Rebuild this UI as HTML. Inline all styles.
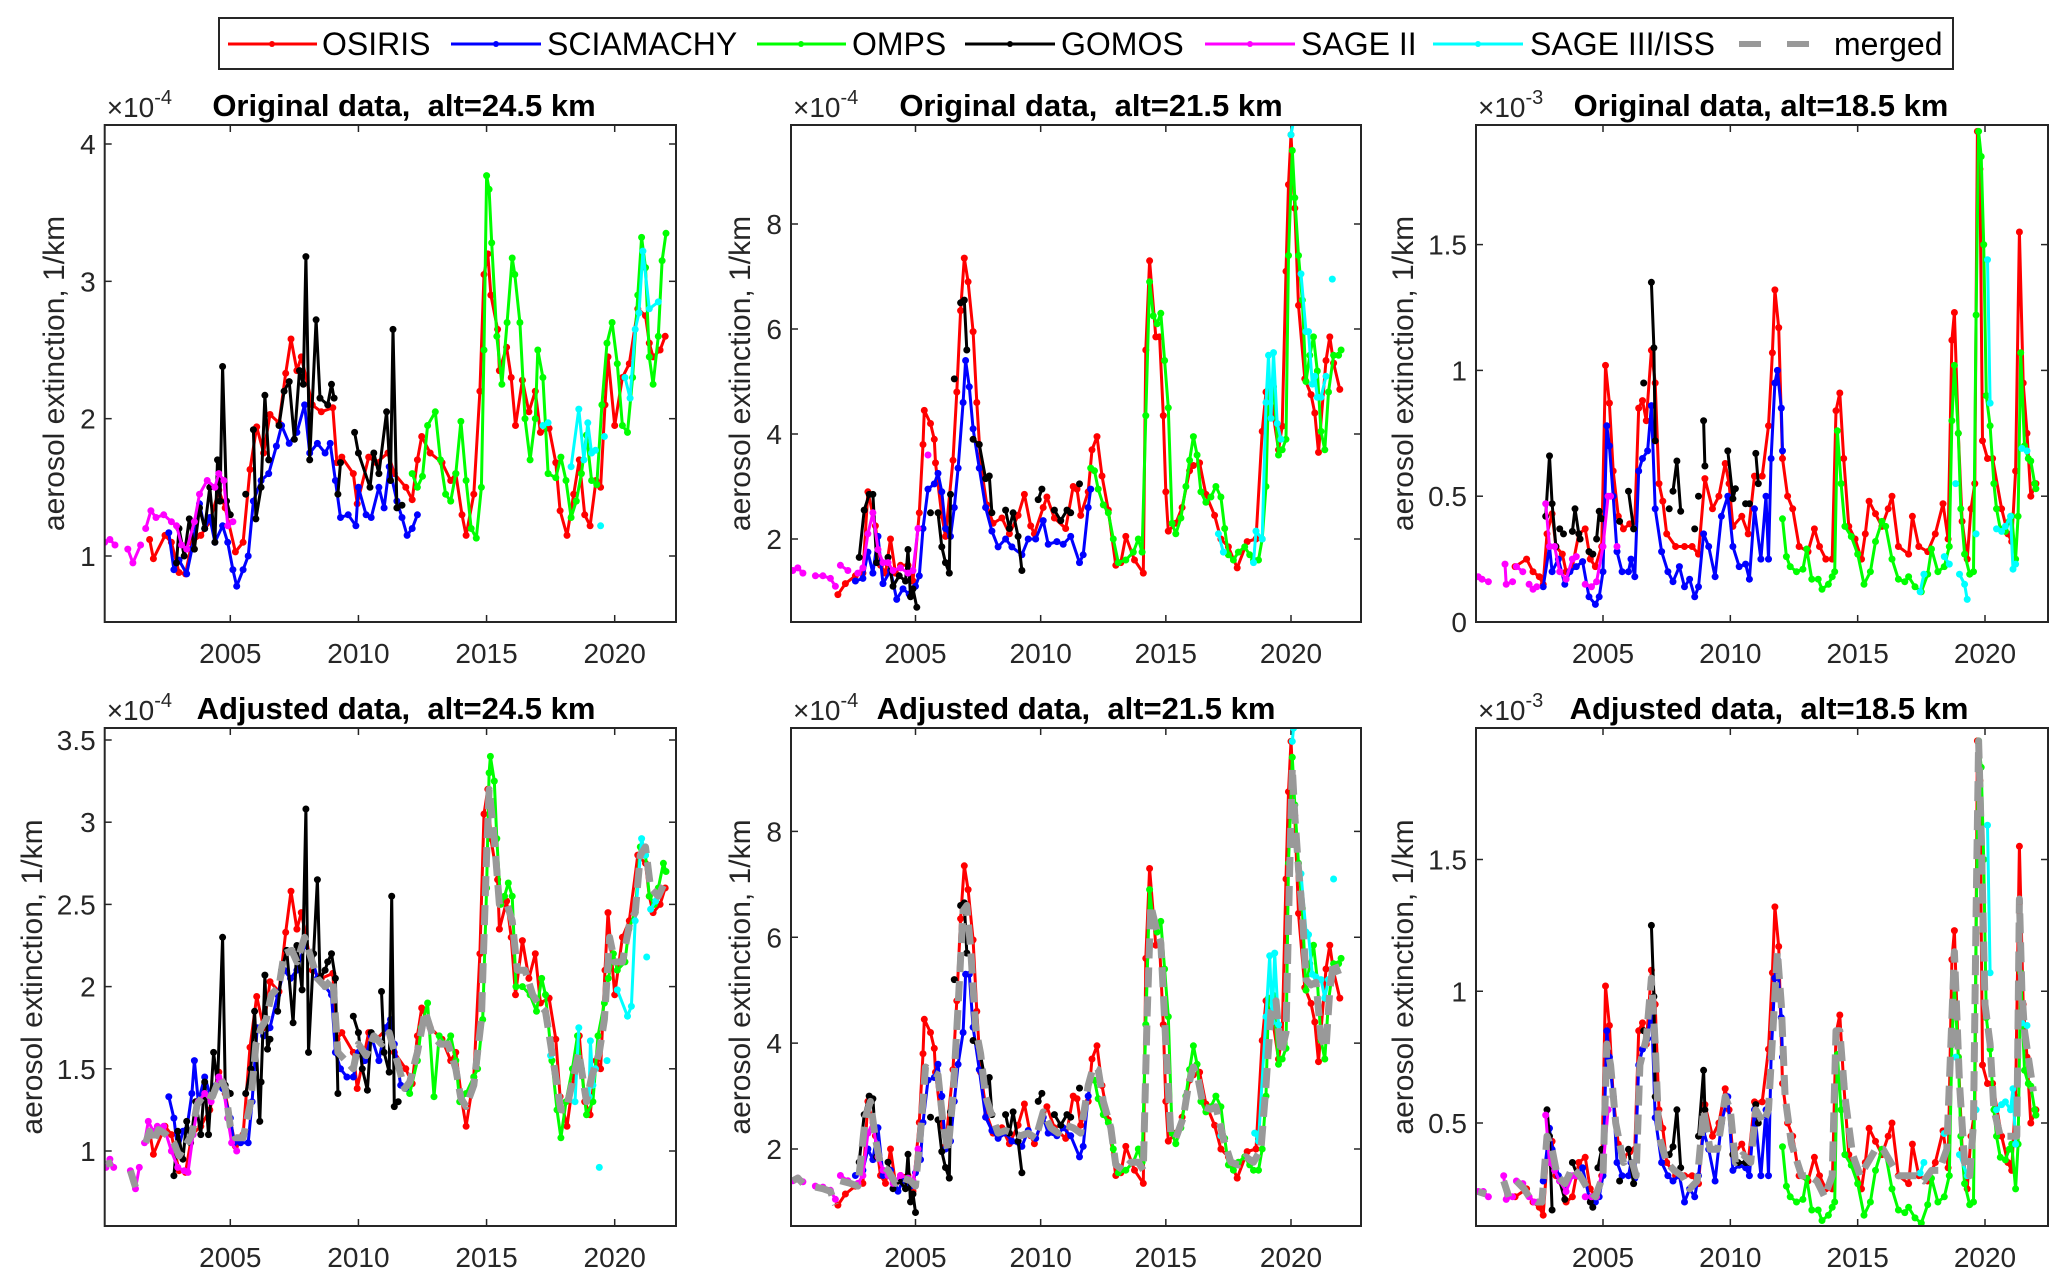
<!DOCTYPE html>
<html><head><meta charset="utf-8">
<style>
html,body{margin:0;padding:0;background:#fff;}
svg{display:block;font-family:"Liberation Sans",Arial,sans-serif;}
text{white-space:pre;}
</style></head>
<body>
<svg id="fig" width="2067" height="1284" viewBox="0 0 2067 1284" xmlns="http://www.w3.org/2000/svg">
<rect x="0" y="0" width="2067" height="1284" fill="#fff"/>
<g id="legend">
  <rect x="219" y="18" width="1734" height="51" fill="#fff" stroke="#262626" stroke-width="2"/>
  <g><line x1="228" y1="44" x2="317" y2="44" stroke="#f00" stroke-width="3"/><circle cx="272" cy="44" r="3" fill="#f00"/><text x="322" y="55" font-size="32" fill="#000">OSIRIS</text></g>
  <g><line x1="451" y1="44" x2="541" y2="44" stroke="#00f" stroke-width="3"/><circle cx="496" cy="44" r="3" fill="#00f"/><text x="547" y="55" font-size="32" fill="#000">SCIAMACHY</text></g>
  <g><line x1="757" y1="44" x2="846" y2="44" stroke="#0f0" stroke-width="3"/><circle cx="801" cy="44" r="3" fill="#0f0"/><text x="852" y="55" font-size="32" fill="#000">OMPS</text></g>
  <g><line x1="965" y1="44" x2="1055" y2="44" stroke="#000" stroke-width="3"/><circle cx="1010" cy="44" r="3" fill="#000"/><text x="1061" y="55" font-size="32" fill="#000">GOMOS</text></g>
  <g><line x1="1205" y1="44" x2="1295" y2="44" stroke="#f0f" stroke-width="3"/><circle cx="1250" cy="44" r="3" fill="#f0f"/><text x="1301" y="55" font-size="32" fill="#000">SAGE II</text></g>
  <g><line x1="1433" y1="44" x2="1523" y2="44" stroke="#0ff" stroke-width="3"/><circle cx="1478" cy="44" r="3" fill="#0ff"/><text x="1530" y="55" font-size="32" fill="#000">SAGE III/ISS</text></g>
  <g><line x1="1739" y1="44" x2="1809" y2="44" stroke="#999" stroke-width="6" stroke-dasharray="22,26"/><text x="1834" y="55" font-size="32" fill="#000">merged</text></g>
</g>
</svg>
<script>
// ===== data (year, value pairs; null breaks line) =====
const A_OSIRIS=[2001.85,1.12,2002.0,0.98,2002.45,1.15,2002.7,1.1,2003.0,0.88,2003.25,0.87,2003.5,1.1,2003.85,1.15,2004.2,1.25,2004.55,1.48,2004.8,1.35,2005.2,1.03,2005.5,1.1,2005.77,1.63,2006.03,1.94,2006.3,1.75,2006.55,2.03,2006.9,1.97,2007.16,2.33,2007.37,2.58,2007.6,2.35,2007.77,2.45,2008.2,2.1,2008.55,2.05,2009.0,2.08,2009.16,1.68,2009.35,1.72,2009.8,1.6,2009.95,1.38,2010.4,1.72,2010.7,1.68,2011.15,1.75,2011.4,1.6,2011.85,1.5,2012.1,1.41,2012.3,1.7,2012.47,1.87,2012.8,1.75,2013.26,1.68,2013.6,1.55,2013.8,1.6,2014.04,1.3,2014.2,1.15,2014.5,1.45,2014.74,2.2,2014.9,3.05,2015.05,3.2,2015.17,2.9,2015.43,2.65,2015.5,2.35,2015.78,2.52,2015.96,2.3,2016.13,1.95,2016.4,2.28,2016.65,2.05,2016.9,2.2,2017.1,1.9,2017.44,1.93,2017.7,1.68,2017.87,1.33,2018.14,1.15,2018.4,1.45,2018.62,1.7,2018.83,1.3,2019.04,1.22,2019.27,1.55,2019.45,1.5,2019.62,2.1,2019.74,2.45,2020.0,1.95,2020.3,2.3,2020.57,2.4,2020.9,2.8,2021.2,2.75,2021.35,2.55,2021.5,2.45,2021.77,2.5,2021.97,2.6];
const A_SCIA=[2002.6,1.17,2002.8,0.9,2003.0,0.97,2003.3,0.87,2003.5,1.05,2003.8,1.38,2004.0,1.2,2004.2,1.28,2004.4,1.1,2004.7,1.22,2004.9,1.1,2005.1,0.9,2005.25,0.78,2005.5,0.9,2005.7,1.0,2005.9,1.4,2006.2,1.55,2006.5,1.6,2006.8,1.8,2007.0,1.95,2007.3,1.82,2007.6,1.9,2007.9,2.1,2008.1,1.75,2008.4,1.82,2008.7,1.75,2008.9,1.82,2009.1,1.55,2009.3,1.28,2009.6,1.3,2009.9,1.22,2010.0,1.5,2010.3,1.3,2010.5,1.28,2010.8,1.5,2011.0,1.35,2011.2,1.65,2011.5,1.4,2011.7,1.28,2011.9,1.15,2012.1,1.2,2012.3,1.3];
const A_OMPS=[2012.1,1.6,2012.3,1.5,2012.5,1.58,2012.7,1.95,2013.0,2.05,2013.2,1.7,2013.4,1.45,2013.6,1.4,2013.8,1.6,2014.0,1.98,2014.2,1.55,2014.4,1.2,2014.6,1.13,2014.8,1.5,2014.9,2.5,2015.0,3.77,2015.1,3.67,2015.2,3.28,2015.4,2.6,2015.6,2.25,2015.8,2.7,2016.0,3.17,2016.1,3.05,2016.3,2.7,2016.5,2.0,2016.7,1.7,2016.9,2.0,2017.0,2.5,2017.2,2.3,2017.4,1.6,2017.7,1.57,2017.9,1.72,2018.1,1.55,2018.3,1.28,2018.5,1.4,2018.7,1.6,2018.9,1.88,2019.1,1.55,2019.3,1.52,2019.5,2.1,2019.7,2.55,2019.9,2.7,2020.1,2.4,2020.3,1.95,2020.5,1.9,2020.7,2.3,2020.9,2.9,2021.05,3.32,2021.2,3.1,2021.35,2.45,2021.5,2.25,2021.7,2.6,2021.85,3.15,2022.0,3.35];
const A_GOMOS=[2002.9,0.95,2003.0,1.2,2003.2,1.0,2003.4,1.27,2003.6,1.05,2003.8,1.35,2004.0,1.2,2004.2,1.5,2004.4,1.1,2004.5,1.7,2004.6,1.4,2004.7,2.38,2004.85,1.4,2005.0,1.3,null,null,2005.6,1.45,null,null,2005.9,1.92,2006.0,1.27,2006.2,1.5,2006.35,2.17,2006.5,1.7,null,null,2006.9,1.95,2007.1,2.2,2007.3,2.27,2007.5,1.85,2007.7,2.35,2007.85,2.25,2007.95,3.18,2008.1,1.7,2008.35,2.72,2008.5,2.15,2008.8,2.1,2008.95,2.25,2009.05,2.15,null,null,2009.2,1.45,2009.3,1.68,null,null,2009.85,1.9,2010.0,1.75,2010.45,1.5,2010.6,1.75,2010.8,1.6,2011.1,2.05,2011.25,1.55,2011.35,2.65,2011.5,1.35,2011.7,1.37];
const A_SAGE2=[2000.1,1.1,2000.3,1.12,2000.5,1.08,null,null,2001.0,1.05,2001.2,0.95,2001.5,1.08,null,null,2001.7,1.2,2001.9,1.33,2002.1,1.28,2002.4,1.3,2002.7,1.25,2002.9,1.22,2003.1,1.08,2003.3,1.05,2003.6,1.25,2003.8,1.45,2004.1,1.55,2004.4,1.5,2004.55,1.6,2004.75,1.55,2004.9,1.22,2005.1,1.25];
const A_SAGE3=[2017.2,1.95,2017.4,1.97,null,null,2018.3,1.65,2018.6,2.07,2018.8,1.7,2018.95,1.97,2019.1,1.75,2019.25,1.77,null,null,2019.45,1.22,null,null,2019.6,1.87,null,null,2020.4,2.3,2020.6,2.15,2020.8,2.65,2020.95,2.77,2021.1,3.22,2021.35,2.8,2021.7,2.85];

const B_OSIRIS=[2001.9,0.94,2002.2,1.15,2002.6,1.3,2002.9,1.35,2003.1,2.9,2003.4,2.25,2003.6,1.5,2003.8,1.35,2004.0,2.0,2004.2,1.35,2004.4,1.5,2004.7,1.5,2004.9,1.2,2005.15,2.5,2005.3,3.8,2005.35,4.45,2005.6,4.2,2005.75,3.9,2005.8,3.45,2006.05,2.45,2006.2,2.05,2006.5,3.5,2006.65,4.8,2006.8,6.35,2006.95,7.35,2007.1,6.9,2007.3,5.95,2007.45,4.6,2007.6,3.45,2007.85,2.65,2008.1,2.3,2008.45,2.4,2008.75,2.1,2009.1,2.45,2009.35,2.85,2009.6,2.25,2009.75,2.1,2010.1,2.6,2010.25,2.8,2010.55,2.4,2011.0,2.2,2011.3,3.0,2011.45,2.95,2011.6,2.45,2011.9,2.9,2012.05,3.7,2012.25,3.95,2012.45,3.2,2012.7,2.55,2013.0,1.5,2013.2,1.55,2013.4,2.05,2013.75,1.6,2014.1,1.35,2014.2,5.6,2014.35,7.3,2014.6,5.85,2014.75,5.85,2014.9,4.35,2015.0,2.9,2015.1,2.15,2015.4,2.3,2015.65,2.6,2015.95,3.3,2016.1,3.4,2016.35,3.45,2016.6,2.85,2016.95,2.45,2017.2,2.0,2017.5,1.85,2017.85,1.45,2018.25,1.95,2018.6,2.0,2018.85,4.05,2019.0,4.8,2019.25,4.5,2019.5,3.7,2019.65,4.15,2019.8,7.1,2019.9,8.75,2020.0,9.7,2020.15,8.3,2020.3,6.45,2020.55,5.05,2020.8,4.75,2020.95,4.4,2021.1,3.65,2021.4,5.4,2021.55,5.85,2021.7,5.35,2021.95,4.85];
const B_SCIA=[2002.6,1.2,2002.9,1.25,2003.1,1.75,2003.3,1.35,2003.5,2.05,2003.7,1.15,2004.0,1.4,2004.25,0.85,2004.5,1.05,2004.75,0.95,2005.0,1.1,2005.15,1.3,2005.3,2.2,2005.5,2.95,2005.75,3.05,2005.9,3.25,2006.05,2.9,2006.2,2.2,2006.4,2.05,2006.55,2.6,2006.7,3.35,2006.9,4.6,2007.0,5.4,2007.15,4.9,2007.3,4.1,2007.55,3.35,2007.8,2.6,2008.05,2.15,2008.3,1.85,2008.6,2.0,2008.85,1.85,2009.25,1.7,2009.5,2.0,2009.8,2.0,2010.1,2.35,2010.3,1.9,2010.65,1.95,2010.9,1.9,2011.2,2.05,2011.55,1.55,2011.7,1.7,2011.9,2.6,2012.0,2.95];
const B_OMPS=[2012.0,3.35,2012.15,3.3,2012.3,2.95,2012.5,2.65,2012.7,2.5,2012.9,2.0,2013.1,1.55,2013.4,1.6,2013.7,1.75,2013.9,2.0,2014.05,1.75,2014.2,4.35,2014.35,6.9,2014.5,6.25,2014.65,6.1,2014.8,6.3,2014.95,5.4,2015.1,4.5,2015.25,2.3,2015.4,2.1,2015.6,2.4,2015.8,3.0,2015.95,3.5,2016.1,3.95,2016.25,3.6,2016.4,2.9,2016.6,2.7,2016.8,2.8,2017.0,3.0,2017.2,2.8,2017.35,2.2,2017.5,1.7,2017.7,1.6,2017.9,1.75,2018.15,1.85,2018.35,1.7,2018.5,1.6,2018.7,1.6,2018.85,2.0,2019.0,3.0,2019.1,4.85,2019.3,4.9,2019.5,3.6,2019.65,3.7,2019.8,3.9,2019.9,7.4,2020.05,9.4,2020.15,8.5,2020.3,7.4,2020.45,6.55,2020.6,5.0,2020.75,5.5,2020.9,5.85,2021.05,5.2,2021.2,4.05,2021.35,3.7,2021.5,4.8,2021.7,5.5,2021.9,5.5,2022.0,5.6];
const B_GOMOS=[2002.75,1.65,2002.95,2.55,2003.15,2.85,2003.3,2.85,2003.45,1.55,null,null,2003.9,1.65,2004.1,1.1,2004.35,1.3,2004.6,1.2,2004.7,1.8,2004.8,0.9,2004.9,1.05,2005.05,0.7,null,null,2005.6,2.5,null,null,2005.9,2.5,2006.05,1.85,2006.2,1.55,2006.35,1.35,2006.4,2.85,null,null,2006.55,5.05,null,null,2006.8,6.5,2006.95,6.55,2007.05,5.6,null,null,2007.3,3.9,2007.55,3.8,2007.8,3.15,2007.95,3.2,2008.05,2.5,null,null,2008.6,2.55,2008.75,2.2,2008.9,2.5,2009.1,2.05,2009.25,1.4,null,null,2009.9,2.75,2010.05,2.95,null,null,2010.55,2.55,2010.8,2.35,2011.05,2.55,2011.2,2.5,null,null,2011.55,3.05];
const B_SAGE2=[2000.1,1.4,2000.3,1.45,2000.5,1.35,null,null,2001.0,1.3,2001.3,1.3,2001.6,1.25,2001.8,1.1,null,null,2002.0,1.5,2002.3,1.4,null,null,2002.7,1.35,2002.9,1.45,2003.1,2.1,2003.3,2.5,2003.5,1.8,2003.7,1.55,2003.9,1.55,2004.1,1.4,2004.4,1.45,2004.7,1.35,2004.9,1.4,2005.1,2.2,null,null,2005.5,3.6];
const B_SAGE3=[2017.1,2.1,2017.3,1.75,null,null,2018.5,1.55,2018.6,2.15,2018.85,2.0,2019.0,4.6,2019.1,5.5,2019.2,4.3,2019.3,5.55,2019.45,4.2,2019.6,3.9,null,null,2020.0,9.7,2020.1,9.95,null,null,2020.4,7.05,2020.6,5.95,2020.7,5.95,2020.85,4.95,2020.95,5.1,2021.05,4.7,2021.2,4.7,2021.4,5.1,null,null,2021.65,6.95];

const C_OSIRIS=[2001.55,0.22,2002.0,0.25,2002.25,0.2,2002.5,0.18,2002.65,0.15,2002.8,0.35,2003.0,0.43,2003.15,0.3,2003.4,0.27,2003.55,0.2,2003.8,0.22,2004.05,0.35,2004.3,0.37,2004.5,0.25,2004.7,0.22,2004.95,0.3,2005.1,1.02,2005.25,0.87,2005.4,0.6,2005.6,0.42,2005.8,0.37,2006.05,0.39,2006.25,0.4,2006.4,0.85,2006.55,0.88,2006.7,0.8,2006.9,1.08,2007.05,0.95,2007.2,0.55,2007.35,0.48,2007.5,0.35,2007.85,0.3,2008.2,0.3,2008.5,0.3,2008.75,0.27,2009.0,0.57,2009.3,0.45,2009.55,0.5,2009.8,0.63,2009.95,0.55,2010.1,0.38,2010.45,0.42,2010.7,0.35,2010.95,0.58,2011.25,0.58,2011.5,0.78,2011.65,1.07,2011.75,1.32,2011.9,1.17,2012.05,0.65,2012.25,0.5,2012.45,0.45,2012.7,0.3,2013.05,0.28,2013.3,0.37,2013.5,0.3,2013.75,0.25,2014.0,0.25,2014.15,0.84,2014.3,0.91,2014.45,0.65,2014.65,0.38,2014.9,0.33,2015.15,0.25,2015.3,0.35,2015.45,0.48,2015.7,0.43,2015.95,0.38,2016.2,0.45,2016.35,0.5,2016.6,0.3,2017.0,0.27,2017.15,0.42,2017.4,0.3,2017.75,0.28,2018.05,0.35,2018.35,0.47,2018.55,0.33,2018.7,1.12,2018.8,1.23,2018.95,0.75,2019.1,0.4,2019.3,0.25,2019.45,0.45,2019.6,0.55,2019.7,1.95,2019.8,1.8,2019.9,0.72,2020.1,0.65,2020.3,0.65,2020.65,0.45,2020.9,0.35,2021.05,0.32,2021.2,0.6,2021.35,1.55,2021.5,0.95,2021.65,0.75,2021.8,0.5,2022.0,0.55];
const C_SCIA=[2002.65,0.14,2002.9,0.3,2003.0,0.2,2003.25,0.25,2003.5,0.15,2003.7,0.2,2003.95,0.22,2004.2,0.24,2004.45,0.1,2004.7,0.07,2004.85,0.1,2005.0,0.2,2005.15,0.78,2005.25,0.7,2005.4,0.5,2005.55,0.28,2005.75,0.2,2006.0,0.2,2006.1,0.25,2006.25,0.18,2006.4,0.6,2006.55,0.65,2006.75,0.68,2006.9,0.86,2007.05,0.45,2007.3,0.28,2007.55,0.2,2007.75,0.16,2008.0,0.22,2008.2,0.14,2008.4,0.17,2008.6,0.1,2008.75,0.14,2008.95,0.35,2009.15,0.3,2009.4,0.18,2009.65,0.42,2009.9,0.5,2010.1,0.3,2010.35,0.22,2010.6,0.23,2010.75,0.17,2010.95,0.45,2011.2,0.25,2011.4,0.5,2011.5,0.25,2011.6,0.65,2011.75,0.95,2011.85,1.0,2012.0,0.85,2012.05,0.68];
const C_OMPS=[2012.05,0.41,2012.2,0.26,2012.35,0.22,2012.6,0.2,2012.85,0.21,2013.0,0.29,2013.2,0.17,2013.45,0.17,2013.6,0.13,2013.85,0.15,2014.0,0.18,2014.1,0.2,2014.2,0.76,2014.35,0.55,2014.5,0.38,2014.75,0.34,2015.0,0.27,2015.25,0.15,2015.5,0.2,2015.7,0.32,2015.95,0.4,2016.1,0.38,2016.35,0.25,2016.6,0.17,2016.85,0.16,2017.0,0.18,2017.25,0.14,2017.5,0.12,2017.75,0.19,2017.9,0.29,2018.15,0.2,2018.4,0.22,2018.6,0.3,2018.7,0.8,2018.8,1.02,2018.95,0.75,2019.05,0.45,2019.2,0.27,2019.4,0.19,2019.55,0.2,2019.65,1.22,2019.75,1.95,2019.85,1.85,2019.95,1.5,2020.05,0.9,2020.2,0.78,2020.35,0.55,2020.45,0.45,2020.6,0.37,2020.8,0.36,2020.95,0.4,2021.05,0.42,2021.2,0.25,2021.3,0.42,2021.4,1.07,2021.55,0.7,2021.7,0.65,2021.8,0.64,2021.95,0.55,2022.0,0.53];
const C_GOMOS=[2002.75,0.42,2002.9,0.66,2003.0,0.47,2003.15,0.3,null,null,2003.3,0.37,2003.45,0.35,null,null,2003.8,0.36,2003.9,0.45,2004.05,0.35,2004.1,0.33,null,null,2004.45,0.28,2004.6,0.27,null,null,2004.75,0.33,2004.85,0.44,2004.95,0.41,null,null,2005.65,0.4,null,null,2006.0,0.52,2006.2,0.37,null,null,2006.6,0.95,null,null,2006.9,1.35,2007.0,1.09,2007.05,0.72,null,null,2007.6,0.45,null,null,2007.75,0.52,2007.9,0.64,2008.05,0.44,null,null,2008.6,0.37,null,null,2008.75,0.5,null,null,2008.95,0.8,2009.0,0.62,null,null,2009.9,0.68,2010.1,0.49,2010.2,0.53,null,null,2010.6,0.47,2010.75,0.47,null,null,2011.0,0.67,2011.1,0.55];
const C_SAGE2=[2000.1,0.18,2000.25,0.17,2000.5,0.16,null,null,2001.15,0.23,2001.2,0.15,2001.45,0.16,null,null,2001.6,0.22,2001.85,0.2,null,null,2002.1,0.15,2002.25,0.13,2002.4,0.14,null,null,2002.75,0.47,2002.9,0.3,2003.1,0.3,2003.3,0.2,2003.55,0.17,2003.8,0.25,2003.95,0.26,null,null,2004.3,0.15,2004.55,0.14,2004.75,0.16,2005.0,0.3,2005.2,0.5,2005.3,0.5,null,null,2005.55,0.3];
const C_SAGE3=[2017.45,0.12,2017.6,0.19,null,null,2018.4,0.26,2018.6,0.23,null,null,2018.85,0.55,null,null,2019.0,0.19,2019.2,0.15,2019.3,0.09,null,null,2019.65,0.35,null,null,2020.1,1.44,2020.2,0.87,null,null,2020.45,0.37,2020.65,0.36,2020.8,0.38,2021.0,0.42,2021.1,0.21,2021.2,0.23,null,null,2021.45,0.69,2021.65,0.68];

const D_OSIRIS=A_OSIRIS.slice();
const D_SCIA=[2002.6,1.33,2002.8,1.2,2002.95,1.0,2003.15,1.12,2003.3,1.13,2003.5,1.35,2003.6,1.55,2003.75,1.3,2004.0,1.45,2004.2,1.35,2004.45,1.4,2004.7,1.38,2005.0,1.2,2005.15,1.05,2005.4,1.05,2005.7,1.05,2005.85,1.3,2006.05,1.75,2006.3,1.7,2006.55,1.75,2006.85,1.95,2007.1,2.1,2007.35,2.05,2007.6,2.1,2007.9,2.25,2008.15,2.2,2008.4,2.05,2008.7,2.0,2008.95,1.95,2009.1,1.6,2009.3,1.5,2009.55,1.45,2009.8,1.45,2010.0,1.6,2010.25,1.55,2010.5,1.7,2010.8,1.55,2011.05,1.75,2011.25,1.8,2011.4,1.65,2011.65,1.4,2011.85,1.38,2012.0,1.42];
const D_OMPS=[2012.0,1.35,2012.3,1.55,2012.45,1.75,2012.7,1.9,2012.95,1.33,2013.15,1.7,2013.4,1.65,2013.6,1.7,2013.8,1.55,2013.95,1.3,2014.2,1.35,2014.5,1.45,2014.65,1.5,2014.85,1.8,2015.0,2.6,2015.1,3.3,2015.15,3.4,2015.3,3.25,2015.4,2.9,2015.55,2.5,2015.7,2.55,2015.85,2.63,2016.0,2.55,2016.15,2.0,2016.4,2.0,2016.7,1.95,2016.95,1.85,2017.15,2.05,2017.3,1.95,2017.55,1.55,2017.75,1.25,2017.9,1.08,2018.1,1.3,2018.35,1.5,2018.55,1.7,2018.7,1.5,2018.9,1.22,2019.15,1.3,2019.35,1.7,2019.6,1.9,2019.75,2.05,2019.95,2.2,2020.1,2.1,2020.4,2.15,2020.55,2.35,2020.8,2.45,2021.0,2.85,2021.2,2.8,2021.35,2.55,2021.55,2.5,2021.7,2.6,2021.9,2.75,2022.0,2.7];
const D_GOMOS=[2002.8,0.85,2002.95,1.12,2003.15,0.95,2003.3,1.18,2003.45,1.05,2003.65,1.3,2003.85,1.1,2004.0,1.42,2004.15,1.1,2004.35,1.6,2004.5,1.4,2004.7,2.3,2004.8,1.4,2005.0,1.35,null,null,2005.6,1.35,2005.8,1.5,2005.95,1.85,2006.15,1.18,2006.2,1.42,2006.35,2.07,2006.45,1.62,2006.55,1.68,null,null,2006.85,1.85,2007.0,2.1,2007.2,2.22,2007.45,1.78,2007.6,2.25,2007.8,1.98,2007.95,3.08,2008.05,1.6,2008.25,2.2,2008.4,2.65,2008.5,2.05,2008.7,2.1,2008.8,2.15,2008.95,2.2,2009.1,2.05,2009.2,1.35,null,null,2009.8,1.82,2010.0,1.72,2010.15,1.5,2010.35,1.37,2010.5,1.72,null,null,2010.9,1.97,2011.0,1.6,2011.2,1.48,2011.3,2.55,2011.4,1.27,2011.55,1.3];
const D_SAGE2=[2000.15,0.9,2000.3,0.95,2000.45,0.9,null,null,2001.1,0.88,2001.3,0.77,2001.45,0.9,null,null,2001.65,1.05,2001.8,1.18,2002.0,1.12,2002.15,1.15,2002.4,1.15,2002.7,1.0,2002.95,0.9,2003.2,0.88,2003.35,0.87,2003.55,1.1,2003.75,1.3,2004.0,1.35,2004.25,1.3,2004.55,1.45,2004.7,1.42,2004.9,1.2,2005.05,1.05,2005.25,1.0];
const D_SAGE3=[2017.5,1.58,null,null,2018.45,1.3,2018.6,1.75,null,null,2019.0,1.33,2019.05,1.67,2019.15,1.4,2019.25,1.5,null,null,2019.4,0.9,null,null,2019.7,1.55,null,null,2020.1,1.98,2020.5,1.82,2020.65,1.88,2020.8,2.4,2021.05,2.9,2021.2,2.8,null,null,2021.25,2.18,null,null,2021.4,2.47,2021.6,2.52];
const D_MERGED=[2000.15,0.92,2000.4,0.93,null,null,2001.1,0.88,2001.3,0.78,null,null,2001.7,1.05,2001.85,1.12,2002.0,1.05,2002.2,1.13,2002.5,1.1,2002.8,1.05,2003.0,0.97,2003.2,1.02,2003.5,1.1,2003.7,1.28,2004.0,1.35,2004.3,1.33,2004.6,1.45,2004.8,1.38,2005.0,1.15,2005.2,1.08,2005.5,1.08,2005.8,1.3,2006.0,1.65,2006.2,1.75,2006.4,1.8,2006.6,1.95,2006.9,2.0,2007.1,2.2,2007.4,2.22,2007.6,2.15,2007.9,2.3,2008.1,2.2,2008.4,2.05,2008.7,2.0,2009.0,2.05,2009.2,1.6,2009.5,1.55,2009.8,1.5,2010.0,1.65,2010.3,1.58,2010.6,1.7,2010.9,1.65,2011.2,1.72,2011.5,1.55,2011.8,1.38,2012.0,1.42,2012.3,1.6,2012.6,1.85,2012.9,1.7,2013.2,1.65,2013.5,1.65,2013.8,1.5,2014.0,1.32,2014.2,1.27,2014.5,1.4,2014.8,1.8,2015.0,2.8,2015.1,3.2,2015.3,2.9,2015.5,2.5,2015.8,2.5,2016.0,2.4,2016.2,2.1,2016.5,2.1,2016.8,1.95,2017.0,1.9,2017.3,1.85,2017.6,1.55,2017.9,1.25,2018.1,1.25,2018.4,1.45,2018.6,1.6,2018.9,1.3,2019.1,1.45,2019.4,1.6,2019.6,1.8,2019.8,2.3,2020.0,2.15,2020.3,2.15,2020.6,2.4,2020.8,2.45,2021.0,2.8,2021.2,2.85,2021.4,2.6,2021.7,2.55,2022.0,2.65];

const E_OSIRIS=B_OSIRIS.slice();
const E_SCIA=[2002.6,1.5,2002.9,1.6,2003.1,2.0,2003.3,1.8,2003.5,2.4,2003.7,1.5,2004.0,1.6,2004.3,1.2,2004.5,1.4,2004.8,1.3,2005.0,1.55,2005.2,1.8,2005.3,2.5,2005.5,3.3,2005.75,3.35,2005.9,3.6,2006.05,3.0,2006.2,2.0,2006.4,2.15,2006.55,2.9,2006.7,3.6,2006.9,4.2,2007.0,5.3,2007.15,5.3,2007.3,4.3,2007.55,3.5,2007.8,2.6,2008.05,2.35,2008.3,2.2,2008.6,2.3,2008.85,2.15,2009.25,2.05,2009.5,2.35,2009.8,2.2,2010.1,2.6,2010.3,2.3,2010.65,2.25,2010.9,2.4,2011.2,2.25,2011.55,1.85,2011.7,2.05,2011.9,3.0,2012.0,3.3];
const E_OMPS=B_OMPS.slice();
const E_GOMOS=[2002.75,1.75,2002.95,2.65,2003.15,3.0,2003.3,2.95,2003.45,1.85,null,null,2003.9,1.75,2004.1,1.25,2004.35,1.4,2004.6,1.25,2004.7,1.9,2004.8,1.0,2004.9,1.15,2005.0,0.8,null,null,2005.6,2.6,null,null,2005.9,2.55,2006.05,1.95,2006.2,1.65,2006.35,1.45,2006.4,2.7,null,null,2006.55,5.2,null,null,2006.8,6.6,2006.95,6.65,2007.05,5.7,null,null,2007.3,4.05,2007.55,3.9,2007.8,3.25,2007.95,3.35,2008.05,2.65,null,null,2008.6,2.65,2008.75,2.3,2008.9,2.7,2009.1,2.15,2009.25,1.55,null,null,2009.9,2.9,2010.05,3.05,null,null,2010.55,2.65,2010.8,2.45,2011.05,2.65,2011.2,2.6,null,null,2011.55,3.15];
const E_SAGE2=[2000.1,1.4,2000.3,1.45,2000.5,1.38,null,null,2001.0,1.3,2001.3,1.28,2001.6,1.22,2001.8,1.05,null,null,2002.0,1.5,2002.3,1.4,null,null,2002.7,1.35,2002.9,1.5,2003.1,2.3,2003.3,2.5,2003.5,1.85,2003.7,1.6,2003.9,1.5,2004.1,1.35,2004.4,1.5,2004.7,1.45,2004.9,1.4,2005.1,2.0];
const E_SAGE3=[2017.2,2.25,null,null,2018.55,2.3,2018.7,2.15,2019.0,4.5,2019.15,5.65,2019.25,4.4,2019.35,5.7,2019.5,4.35,2019.7,4.05,null,null,2020.05,9.7,2020.1,9.95,null,null,2020.4,7.2,2020.6,6.1,2020.7,6.05,2020.85,5.3,2021.0,5.25,2021.2,5.2,2021.35,4.85,2021.5,5.2,null,null,2021.7,7.1];
const E_MERGED=[2000.1,1.4,2000.3,1.45,2000.5,1.35,null,null,2001.0,1.28,2001.3,1.25,2001.6,1.2,2001.8,0.95,null,null,2002.0,1.4,2002.4,1.35,2002.7,1.3,2003.0,2.6,2003.2,2.9,2003.4,2.2,2003.6,1.7,2003.9,1.6,2004.2,1.35,2004.5,1.45,2004.8,1.4,2005.0,1.3,2005.2,2.3,2005.4,3.55,2005.7,3.45,2005.9,3.4,2006.1,2.5,2006.3,1.95,2006.5,3.0,2006.7,4.7,2006.9,6.5,2007.05,6.6,2007.2,5.8,2007.4,4.3,2007.6,3.8,2007.8,3.0,2008.0,2.7,2008.3,2.3,2008.6,2.35,2008.9,2.3,2009.2,2.25,2009.5,2.3,2009.8,2.2,2010.1,2.7,2010.4,2.4,2010.7,2.3,2011.0,2.45,2011.3,2.4,2011.6,2.3,2011.9,3.2,2012.1,3.55,2012.3,3.5,2012.5,2.9,2012.8,2.4,2013.0,1.7,2013.3,1.6,2013.6,1.75,2013.9,1.75,2014.1,1.6,2014.25,4.5,2014.4,6.6,2014.6,6.2,2014.8,5.9,2015.0,4.0,2015.2,2.3,2015.4,2.2,2015.7,2.6,2015.9,3.2,2016.1,3.55,2016.3,3.3,2016.5,2.8,2016.8,2.75,2017.0,2.8,2017.3,2.2,2017.6,1.75,2017.9,1.7,2018.2,1.85,2018.5,1.75,2018.8,2.0,2019.0,3.2,2019.2,4.6,2019.4,4.8,2019.6,3.8,2019.8,4.2,2019.95,7.3,2020.05,9.2,2020.15,8.3,2020.3,7.3,2020.45,6.5,2020.6,5.2,2020.8,5.1,2021.0,5.15,2021.2,4.1,2021.4,3.9,2021.55,5.0,2021.7,5.55,2021.9,5.3];

const F_OSIRIS=C_OSIRIS.slice();
const F_SCIA=[2002.65,0.28,2002.9,0.48,2003.0,0.4,2003.25,0.3,2003.5,0.25,2003.7,0.3,2003.95,0.3,2004.2,0.33,2004.45,0.22,2004.7,0.2,2004.85,0.22,2005.0,0.3,2005.15,0.85,2005.25,0.75,2005.4,0.6,2005.55,0.35,2005.75,0.3,2006.0,0.3,2006.1,0.35,2006.25,0.29,2006.4,0.72,2006.55,0.78,2006.75,0.82,2006.9,0.95,2007.05,0.52,2007.3,0.35,2007.55,0.3,2007.75,0.28,2008.0,0.3,2008.2,0.2,2008.4,0.25,2008.6,0.22,2008.75,0.3,2008.95,0.47,2009.15,0.4,2009.4,0.28,2009.65,0.5,2009.9,0.6,2010.1,0.32,2010.35,0.34,2010.6,0.33,2010.75,0.3,2010.95,0.55,2011.2,0.3,2011.4,0.55,2011.5,0.3,2011.6,0.75,2011.75,1.05,2011.85,1.12,2012.0,0.9,2012.05,0.75];
const F_OMPS=C_OMPS.slice();
const F_GOMOS=[2002.8,0.55,2002.9,0.45,2003.0,0.17,null,null,2003.3,0.28,2003.5,0.21,null,null,2003.8,0.35,2004.0,0.3,null,null,2004.5,0.2,2004.6,0.18,null,null,2004.8,0.33,2004.95,0.4,null,null,2005.65,0.28,null,null,2006.0,0.4,2006.2,0.27,null,null,2006.6,0.85,null,null,2006.9,1.25,2007.0,0.98,2007.05,0.6,null,null,2007.6,0.38,2007.75,0.41,2007.9,0.55,2008.05,0.33,null,null,2008.75,0.45,2008.95,0.7,2009.0,0.55,null,null,2010.1,0.38,2010.3,0.35,2010.6,0.35,2010.75,0.35,null,null,2011.0,0.57,2011.1,0.5];
const F_SAGE2=[2000.1,0.24,2000.3,0.24,2000.5,0.22,null,null,2001.1,0.3,2001.2,0.21,2001.45,0.22,null,null,2001.6,0.28,2001.85,0.27,null,null,2002.1,0.22,2002.3,0.2,2002.45,0.2,null,null,2002.75,0.53,2002.9,0.35,2003.1,0.32,2003.3,0.28,2003.55,0.24,2003.8,0.3,2003.95,0.3,null,null,2004.3,0.22,2004.55,0.22,2004.75,0.22,2005.0,0.33,2005.2,0.55];
const F_SAGE3=[2017.45,0.31,2017.6,0.35,null,null,2018.4,0.46,null,null,2018.85,0.75,null,null,2019.0,0.38,2019.3,0.3,null,null,2019.65,0.55,null,null,2020.1,1.63,2020.2,1.07,null,null,2020.45,0.55,2020.65,0.57,2020.8,0.58,2021.0,0.55,2021.1,0.63,2021.2,0.42,null,null,2021.45,0.88,2021.65,0.87];
const F_MERGED=[2000.1,0.24,2000.4,0.23,null,null,2001.1,0.28,2001.3,0.22,null,null,2001.6,0.28,2001.9,0.25,2002.1,0.22,2002.4,0.2,2002.6,0.2,2002.8,0.45,2003.0,0.4,2003.2,0.3,2003.5,0.27,2003.8,0.33,2004.1,0.3,2004.4,0.25,2004.7,0.22,2005.0,0.3,2005.15,0.8,2005.3,0.72,2005.5,0.5,2005.8,0.35,2006.1,0.37,2006.3,0.3,2006.45,0.72,2006.7,0.82,2006.9,1.05,2007.05,0.8,2007.2,0.45,2007.5,0.35,2007.8,0.32,2008.1,0.3,2008.4,0.25,2008.7,0.28,2008.95,0.55,2009.2,0.4,2009.5,0.4,2009.8,0.6,2010.0,0.55,2010.2,0.35,2010.5,0.38,2010.8,0.35,2011.0,0.55,2011.3,0.5,2011.5,0.55,2011.7,0.9,2011.85,1.15,2012.0,0.95,2012.15,0.6,2012.4,0.42,2012.8,0.3,2013.1,0.3,2013.4,0.28,2013.7,0.22,2014.0,0.3,2014.15,0.85,2014.3,0.85,2014.5,0.6,2014.8,0.38,2015.1,0.3,2015.4,0.35,2015.7,0.4,2016.0,0.4,2016.3,0.35,2016.6,0.3,2017.0,0.3,2017.3,0.3,2017.6,0.28,2017.9,0.32,2018.2,0.32,2018.5,0.4,2018.7,0.9,2018.8,1.15,2019.0,0.65,2019.2,0.35,2019.4,0.3,2019.55,0.5,2019.65,1.3,2019.75,1.95,2019.85,1.6,2020.0,0.95,2020.2,0.8,2020.35,0.55,2020.6,0.45,2020.9,0.45,2021.1,0.45,2021.25,0.45,2021.35,1.35,2021.45,1.0,2021.55,0.85,2021.7,0.75,2021.9,0.62];

const X_TICKS=[2005,2010,2015,2020];
const A_TICKS=[1,2,3,4], B_TICKS=[2,4,6,8], C_TICKS=[0,0.5,1,1.5];
const D_TICKS=[1,1.5,2,2.5,3,3.5], E_TICKS=[2,4,6,8], F_TICKS=[0.5,1,1.5];

// ===== layout =====
const NS='http://www.w3.org/2000/svg';
const svg=document.getElementById('fig');
function mk(tag,attrs,parent){const e=document.createElementNS(NS,tag);for(const k in attrs)e.setAttribute(k,attrs[k]);(parent||svg).appendChild(e);return e;}
const COLS=[{l:104.7,r:676,x0:230.3,x1:614.7},{l:791,r:1361,x0:915.5,x1:1291},{l:1476,r:2048,x0:1603,x1:1985}];
const ROWS=[{t:125,b:622,lab:663},{t:728,b:1226,lab:1267}];
const panels=[
 {id:'a',col:0,row:0,v0:1,p0:556,v1:4,p1:144,ticks:A_TICKS,title:'Original data,  alt=24.5 km',tx:404,exp:'-4',yl:54,
  s:[A_OSIRIS,A_SCIA,A_OMPS,A_GOMOS,A_SAGE2,A_SAGE3,null]},
 {id:'b',col:1,row:0,v0:2,p0:539,v1:8,p1:224,ticks:B_TICKS,title:'Original data,  alt=21.5 km',tx:1091,exp:'-4',yl:740,
  s:[B_OSIRIS,B_SCIA,B_OMPS,B_GOMOS,B_SAGE2,B_SAGE3,null]},
 {id:'c',col:2,row:0,v0:0,p0:622,v1:1.5,p1:244.6,ticks:C_TICKS,title:'Original data, alt=18.5 km',tx:1761,exp:'-3',yl:1403,
  s:[C_OSIRIS,C_SCIA,C_OMPS,C_GOMOS,C_SAGE2,C_SAGE3,null]},
 {id:'d',col:0,row:1,v0:1,p0:1151,v1:3.5,p1:740,ticks:D_TICKS,title:'Adjusted data,  alt=24.5 km',tx:396,exp:'-4',yl:32,
  s:[D_OSIRIS,D_SCIA,D_OMPS,D_GOMOS,D_SAGE2,D_SAGE3,D_MERGED]},
 {id:'e',col:1,row:1,v0:2,p0:1149,v1:8,p1:831.4,ticks:E_TICKS,title:'Adjusted data,  alt=21.5 km',tx:1076,exp:'-4',yl:740,
  s:[E_OSIRIS,E_SCIA,E_OMPS,E_GOMOS,E_SAGE2,E_SAGE3,E_MERGED]},
 {id:'f',col:2,row:1,v0:0.5,p0:1123,v1:1.5,p1:859.5,ticks:F_TICKS,title:'Adjusted data,  alt=18.5 km',tx:1769,exp:'-3',yl:1403,
  s:[F_OSIRIS,F_SCIA,F_OMPS,F_GOMOS,F_SAGE2,F_SAGE3,F_MERGED]}
];
const COLORS=['#ff0000','#0000ff','#00ff00','#000000','#ff00ff','#00ffff','#999999'];
const SNAMES=['osiris','sciamachy','omps','gomos','sage-ii','sage-iii-iss','merged'];

panels.forEach(p=>{
  const C=COLS[p.col],R=ROWS[p.row];
  const xs=y=>C.x0+(y-2005)*(C.x1-C.x0)/15;
  const ys=v=>p.p0+(v-p.v0)*(p.p1-p.p0)/(p.v1-p.v0);
  const g=mk('g',{});
  
  
  mk('rect',{x:C.l,y:R.t,width:C.r-C.l,height:R.b-R.t,fill:'#fff'},g);
  const cp=mk('clipPath',{id:'clip'+p.id},g);
  mk('rect',{x:C.l,y:R.t,width:C.r-C.l,height:R.b-R.t},cp);
  X_TICKS.forEach(t=>{
    const x=xs(t);
    mk('line',{x1:x,y1:R.b,x2:x,y2:R.b-7,stroke:'#262626','stroke-width':1.5},g);
    mk('line',{x1:x,y1:R.t,x2:x,y2:R.t+7,stroke:'#262626','stroke-width':1.5},g);
    const tl=mk('text',{x:x,y:R.lab,'font-size':28,fill:'#262626','text-anchor':'middle'},g);
    tl.textContent=String(t);
    
    
  });
  p.ticks.forEach(t=>{
    const y=ys(t);
    mk('line',{x1:C.l,y1:y,x2:C.l+7,y2:y,stroke:'#262626','stroke-width':1.5},g);
    mk('line',{x1:C.r,y1:y,x2:C.r-7,y2:y,stroke:'#262626','stroke-width':1.5},g);
    const tl=mk('text',{x:C.l-9,y:y+10,'font-size':28,fill:'#262626','text-anchor':'end'},g);
    tl.textContent=String(t);
    
    
  });
  const sg=mk('g',{'clip-path':'url(#clip'+p.id+')'},g);
  p.s.forEach((arr,si)=>{
    if(!arr) return;
    const merged=si===6;
    let d='',pen=false;const pts=[];
    for(let i=0;i<arr.length;i+=2){
      if(arr[i]===null){pen=false;continue;}
      const x=xs(arr[i]),y=ys(arr[i+1]);
      d+=(pen?'L':'M')+x.toFixed(1)+' '+y.toFixed(1);pen=true;pts.push([x,y]);
    }
    const sgrp=mk('g',{},sg);
    
    
    const path=mk('path',{d:d,fill:'none',stroke:COLORS[si],'stroke-width':merged?7:3,'stroke-linejoin':'round'},sgrp);
    if(merged){path.setAttribute('stroke-dasharray','20,9');path.setAttribute('stroke','#999999');}
    
    
    if(!merged) pts.forEach(q=>{
      const c=mk('circle',{cx:q[0].toFixed(1),cy:q[1].toFixed(1),r:3.5,fill:COLORS[si]},sgrp);
      
      
    });
  });
  const fr=mk('rect',{x:C.l,y:R.t,width:C.r-C.l,height:R.b-R.t,fill:'none',stroke:'#262626','stroke-width':2},g);
  
  
  const tt=mk('text',{x:p.tx,y:R.t-9,'font-size':31,'font-weight':'bold',fill:'#000','text-anchor':'middle'},g);
  tt.textContent=p.title;
  
  
  const ex=mk('text',{x:C.l+2,y:R.t-8,'font-size':28,fill:'#262626'},g);
  ex.textContent='\u00d710';
  const sup=mk('tspan',{dy:-13,'font-size':20},ex);
  sup.textContent=p.exp;
  
  
  const cy=(R.t+R.b)/2;
  const yl=mk('text',{x:p.yl,y:cy,'font-size':30,fill:'#262626','text-anchor':'middle',transform:'rotate(-90 '+p.yl+' '+cy+')',dy:10},g);
  yl.textContent='aerosol extinction, 1/km';
  
  
});
</script>
</body></html>
